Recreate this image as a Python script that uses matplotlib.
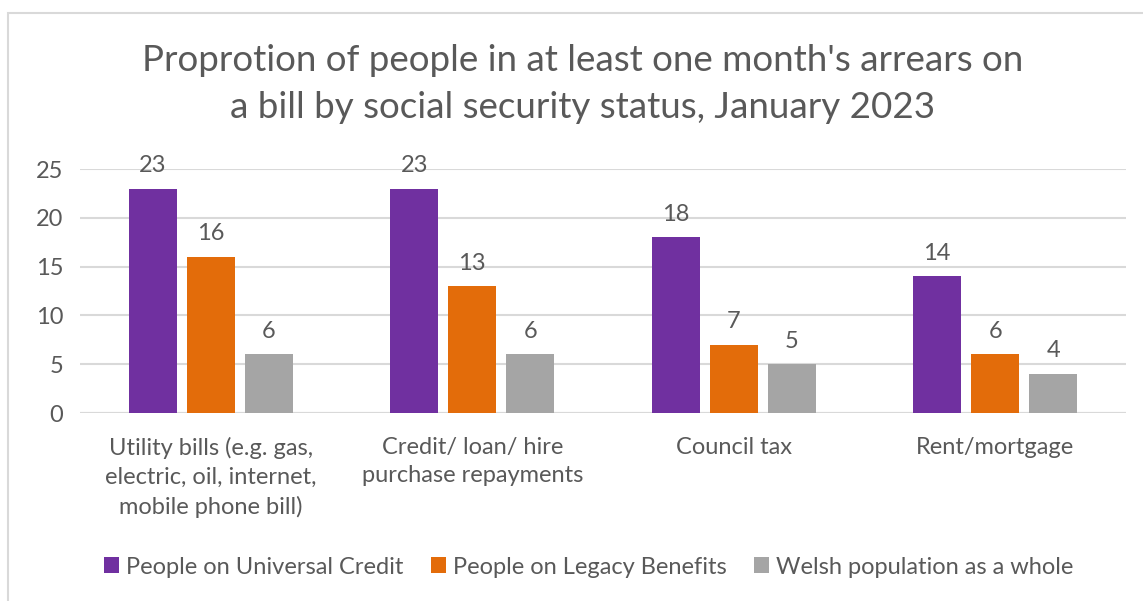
import numpy as np
import matplotlib.pyplot as plt
from matplotlib.patches import Rectangle

plt.rcParams['font.family'] = ['Lato', 'DejaVu Sans']

# Data
categories = ['Utility bills (e.g. gas,\nelectric, oil, internet,\nmobile phone bill)',
              'Credit/ loan/ hire\npurchase repayments',
              'Council tax',
              'Rent/mortgage']
series_names = ['People on Universal Credit', 'People on Legacy Benefits',
                'Welsh population as a whole']
universal_credit = [23, 23, 18, 14]
legacy_benefits = [16, 13, 7, 6]
welsh_population = [6, 6, 5, 4]
colors = ['#7030A0', '#E36C0A', '#A5A5A5']
txt = '#595959'
fs = 17

fig = plt.figure(figsize=(11.43, 6.01), dpi=100)
# light chart-area border
fig.patches.append(Rectangle((8 / 1143, -0.1), 1.2, 1 - 13 / 601 + 0.1,
                             transform=fig.transFigure, fill=False,
                             edgecolor='#D9D9D9', lw=1.5))

ax = fig.add_axes([80 / 1143, 1 - 413 / 601, 1046 / 1143, 244 / 601])

x = np.arange(len(categories))
w = 0.185
gap = 0.037
for i, (vals, name) in enumerate(zip([universal_credit, legacy_benefits, welsh_population],
                                     series_names)):
    pos = x + (i - 1) * (w + gap)
    bars = ax.bar(pos, vals, width=w, color=colors[i], label=name, zorder=3)
    for b, v in zip(bars, vals):
        ax.annotate(f'{v}', (b.get_x() + b.get_width() / 2, v), xytext=(0, 9),
                    textcoords='offset points', ha='center', va='bottom',
                    fontsize=fs, color=txt)

ax.set_xlim(-0.5, len(categories) - 0.5)
ax.set_ylim(0, 25)
ax.set_yticks(range(0, 26, 5))
ax.yaxis.grid(True, color='#D9D9D9', lw=1.5, zorder=0)
ax.set_xticks(x)
ax.set_xticklabels(categories, fontsize=fs, color=txt, linespacing=1.45)
ax.tick_params(axis='y', labelsize=fs, labelcolor=txt, length=0, pad=12)
ax.tick_params(axis='x', length=0, pad=17)
for s in ax.spines.values():
    s.set_visible(False)
ax.axhline(0, color='#D9D9D9', lw=1.5, zorder=2)

fig.text(0.51, 1 - 84 / 601,
         "Proprotion of people in at least one month's arrears on\n"
         "a bill by social security status, January 2023",
         ha='center', va='center', fontsize=26.5, color=txt, linespacing=1.5)

fig.legend(loc='center', bbox_to_anchor=(0.515, 1 - 567 / 601), ncol=3, frameon=False,
           fontsize=fs, labelcolor=txt, handlelength=0.65, handleheight=0.65,
           handletextpad=0.3, columnspacing=1.15)

fig.savefig('out.png', dpi=100)
